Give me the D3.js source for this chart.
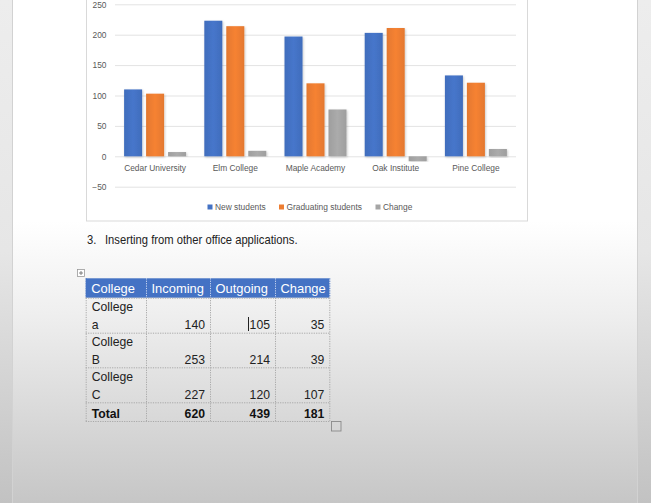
<!DOCTYPE html>
<html><head><meta charset="utf-8">
<script src="https://cdn.jsdelivr.net/npm/d3@7"></script>
<style>html,body{margin:0;padding:0;background:#fff;overflow:hidden}svg{display:block}</style>
</head><body>
<svg id="c" width="651" height="503"></svg>
<script>
// ---- chart data ----
const categories = ["Cedar University", "Elm College", "Maple Academy", "Oak Institute", "Pine College"];
const seriesNames = ["New students", "Graduating students", "Change"];
const newStudents = [110, 223, 197, 203, 133];
const graduating = [103, 214, 120, 211, 121];
const change = [7, 9, 77, -8, 12];
const yTicks = [-50, 0, 50, 100, 150, 200, 250];
// ---- table data ----
const tableHeaders = ["College", "Incoming", "Outgoing", "Change"];
const colleges = ["College a", "College B", "College C"];
const incoming = [140, 253, 227];
const outgoing = [105, 214, 120];
const tableChange = [35, 39, 107];
const totalLabel = "Total";
const totals = [620, 439, 181];
const headingNumber = "3.";
const headingText = "Inserting from other office applications.";

const colors = ["#4472C4", "#ED7D31", "#A5A5A5"];
const svg = d3.select("#c");
const defs = svg.append("defs");

// page background gradient (screen vignette)
const pg = defs.append("linearGradient").attr("id", "pg").attr("x1", 0).attr("y1", 0).attr("x2", 0).attr("y2", 1);
pg.append("stop").attr("offset", 0).attr("stop-color", "#ffffff");
pg.append("stop").attr("offset", 0.44).attr("stop-color", "#ffffff");
pg.append("stop").attr("offset", 0.62).attr("stop-color", "#efefef");
pg.append("stop").attr("offset", 1).attr("stop-color", "#c6c6c6");
const mg = defs.append("linearGradient").attr("id", "mg").attr("x1", 0).attr("y1", 0).attr("x2", 0).attr("y2", 1);
mg.append("stop").attr("offset", 0).attr("stop-color", "#ededed");
mg.append("stop").attr("offset", 0.5).attr("stop-color", "#e6e6e6");
mg.append("stop").attr("offset", 1).attr("stop-color", "#c2c2c2");

svg.append("rect").attr("width", 651).attr("height", 503).attr("fill", "url(#mg)");
svg.append("rect").attr("x", 13).attr("y", 0).attr("width", 624).attr("height", 503).attr("fill", "url(#pg)");
svg.append("line").attr("x1", 12.5).attr("x2", 12.5).attr("y1", 0).attr("y2", 503).attr("stroke", "#d2d2d2");
svg.append("line").attr("x1", 637.5).attr("x2", 637.5).attr("y1", 0).attr("y2", 503).attr("stroke", "#d2d2d2");

// bar gradients
colors.forEach((c, i) => {
  const g = defs.append("linearGradient").attr("id", "bg" + i).attr("x1", 0).attr("y1", 0).attr("x2", 1).attr("y2", 0);
  g.append("stop").attr("offset", 0).attr("stop-color", d3.color(c).darker(0.12));
  g.append("stop").attr("offset", 0.5).attr("stop-color", d3.color(c).brighter(0.1));
  g.append("stop").attr("offset", 1).attr("stop-color", d3.color(c).darker(0.12));
});
const sh = defs.append("filter").attr("id", "sh").attr("x", "-20%").attr("y", "-5%").attr("width", "140%").attr("height", "115%");
sh.append("feDropShadow").attr("dx", 0.8).attr("dy", 1).attr("stdDeviation", 0.8).attr("flood-color", "#000").attr("flood-opacity", 0.22);

// chart frame
svg.append("rect").attr("x", 86.5).attr("y", -10).attr("width", 441).attr("height", 231)
  .attr("fill", "#fff").attr("stroke", "#d9d9d9").attr("stroke-width", 1);

const y = d3.scaleLinear().domain([-50, 250]).range([186.7, 4.3]);
const x0 = d3.scaleBand().domain(categories).range([115, 516]).padding(0);
const x1 = d3.scaleBand().domain(seriesNames).range([9.1, 71.1]).paddingInner(0.18).paddingOuter(0);

const font = "'Liberation Sans', Arial, sans-serif";
// gridlines
const gy = svg.append("g").attr("transform", "translate(115,0)")
  .call(d3.axisLeft(y).tickValues(yTicks).tickSize(-(516 - 115)).tickPadding(8.5));
gy.select(".domain").remove();
gy.selectAll(".tick line").attr("stroke", "#e3e3e3").attr("stroke-width", 1);
gy.selectAll(".tick text").attr("fill", "#595959").style("font-family", font).style("font-size", "8.4px");

// bars
const seriesData = [newStudents, graduating, change];
const groups = svg.append("g").selectAll("g").data(categories).join("g")
  .attr("transform", d => `translate(${x0(d)},0)`);
groups.selectAll("rect").data((d, ci) => seriesNames.map((s, si) => ({ s, si, v: seriesData[si][ci] })))
  .join("rect")
  .attr("x", d => x1(d.s))
  .attr("width", x1.bandwidth())
  .attr("y", d => y(Math.max(0, d.v)))
  .attr("height", d => Math.abs(y(d.v) - y(0)))
  .attr("fill", d => `url(#bg${d.si})`)
  .attr("filter", "url(#sh)");

// category labels
const gx = svg.append("g").attr("transform", `translate(0,${y(0)})`)
  .call(d3.axisBottom(x0).tickSize(0).tickPadding(9));
gx.select(".domain").remove();
gx.selectAll(".tick text").attr("fill", "#595959").style("font-family", font).style("font-size", "8.4px");

// legend
const legendX = [207.5, 279, 375.5];
const lg = svg.append("g").selectAll("g").data(seriesNames).join("g")
  .attr("transform", (d, i) => `translate(${legendX[i]},207)`);
lg.append("rect").attr("x", 0).attr("y", -2.5).attr("width", 5).attr("height", 5).attr("fill", (d, i) => colors[i]);
lg.append("text").attr("x", 7.5).attr("y", 3).text(d => d)
  .attr("fill", "#595959").style("font-family", font).style("font-size", "8.4px");

// heading
svg.append("text").attr("transform", "translate(87,243.5) scale(0.92,1)").text(headingNumber)
  .attr("fill", "#222").style("font-family", font).style("font-size", "12.2px");
svg.append("text").attr("transform", "translate(105,243.5) scale(0.92,1)").text(headingText)
  .attr("fill", "#222").style("font-family", font).style("font-size", "12.2px");

// ---- table ----
const colX = [85.7, 146, 210, 275, 329.3];
const rowY = [278.3, 297.7, 332.7, 367.3, 402.3, 421];
const tf = "'Liberation Sans', Arial, sans-serif";
const tfs = "12.6px";
const tsx = 0.97;
const tg = svg.append("g");
// move handle
tg.append("rect").attr("x", 77.5).attr("y", 269.5).attr("width", 7).attr("height", 7).attr("fill", "#fff").attr("stroke", "#9a9a9a").attr("stroke-width", 0.8);
tg.append("path").attr("d", "M81,271 V275 M79,273 H83").attr("stroke", "#666").attr("stroke-width", 0.8);
// header fill
tg.append("rect").attr("x", colX[0]).attr("y", rowY[0]).attr("width", colX[4] - colX[0]).attr("height", rowY[1] - rowY[0]).attr("fill", "#4472C4");
// body lines
const dash = "1.2,1.2";
for (let i = 1; i < rowY.length; i++) {
  tg.append("line").attr("x1", colX[0]).attr("x2", colX[4]).attr("y1", rowY[i] + 0.5).attr("y2", rowY[i] + 0.5)
    .attr("stroke", "#a8a8a8").attr("stroke-dasharray", dash);
}
colX.forEach((cx, i) => {
  tg.append("line").attr("x1", cx + 0.5).attr("x2", cx + 0.5).attr("y1", rowY[1]).attr("y2", rowY[5])
    .attr("stroke", "#a8a8a8").attr("stroke-dasharray", dash);
  tg.append("line").attr("x1", cx + 0.5).attr("x2", cx + 0.5).attr("y1", rowY[0]).attr("y2", rowY[1])
    .attr("stroke", (i === 0 || i === 4) ? "#4472C4" : "#c9d6f0").attr("stroke-dasharray", dash);
});
// header text
tableHeaders.forEach((h, i) => {
  tg.append("text").attr("transform", `translate(${colX[i] + 5.5},${rowY[0] + 15}) scale(0.95,1)`).text(h)
    .attr("fill", "#fff").style("font-family", tf).style("font-size", "13.6px");
});
// body rows
colleges.forEach((c, r) => {
  const top = rowY[r + 1];
  const parts = c.split(" ");
  parts.forEach((p, li) => {
    tg.append("text").attr("transform", `translate(${colX[0] + 6},${top + 13.6 + li * 17.6}) scale(${tsx},1)`).text(p)
      .attr("fill", "#222").style("font-family", tf).style("font-size", tfs);
  });
  [incoming[r], outgoing[r], tableChange[r]].forEach((v, ci) => {
    tg.append("text").attr("transform", `translate(${colX[ci + 2] - 5},${top + 31.2}) scale(${tsx},1)`).attr("text-anchor", "end").text(v)
      .attr("fill", "#222").style("font-family", tf).style("font-size", tfs);
  });
});
// total row
tg.append("text").attr("transform", `translate(${colX[0] + 6},${rowY[4] + 15.4}) scale(${tsx},1)`).text(totalLabel)
  .attr("fill", "#111").style("font-family", tf).style("font-size", tfs).style("font-weight", "bold");
totals.forEach((v, ci) => {
  tg.append("text").attr("transform", `translate(${colX[ci + 2] - 5},${rowY[4] + 15.4}) scale(${tsx},1)`).attr("text-anchor", "end").text(v)
    .attr("fill", "#111").style("font-family", tf).style("font-size", tfs).style("font-weight", "bold");
});
// text cursor
tg.append("line").attr("x1", 248.5).attr("x2", 248.5).attr("y1", 317).attr("y2", 331).attr("stroke", "#222").attr("stroke-width", 1);
// resize handle
tg.append("rect").attr("x", 331.5).attr("y", 421.5).attr("width", 9.5).attr("height", 9.5).attr("fill", "none").attr("stroke", "#8a8a8a").attr("stroke-width", 0.9);
</script>
</body></html>
